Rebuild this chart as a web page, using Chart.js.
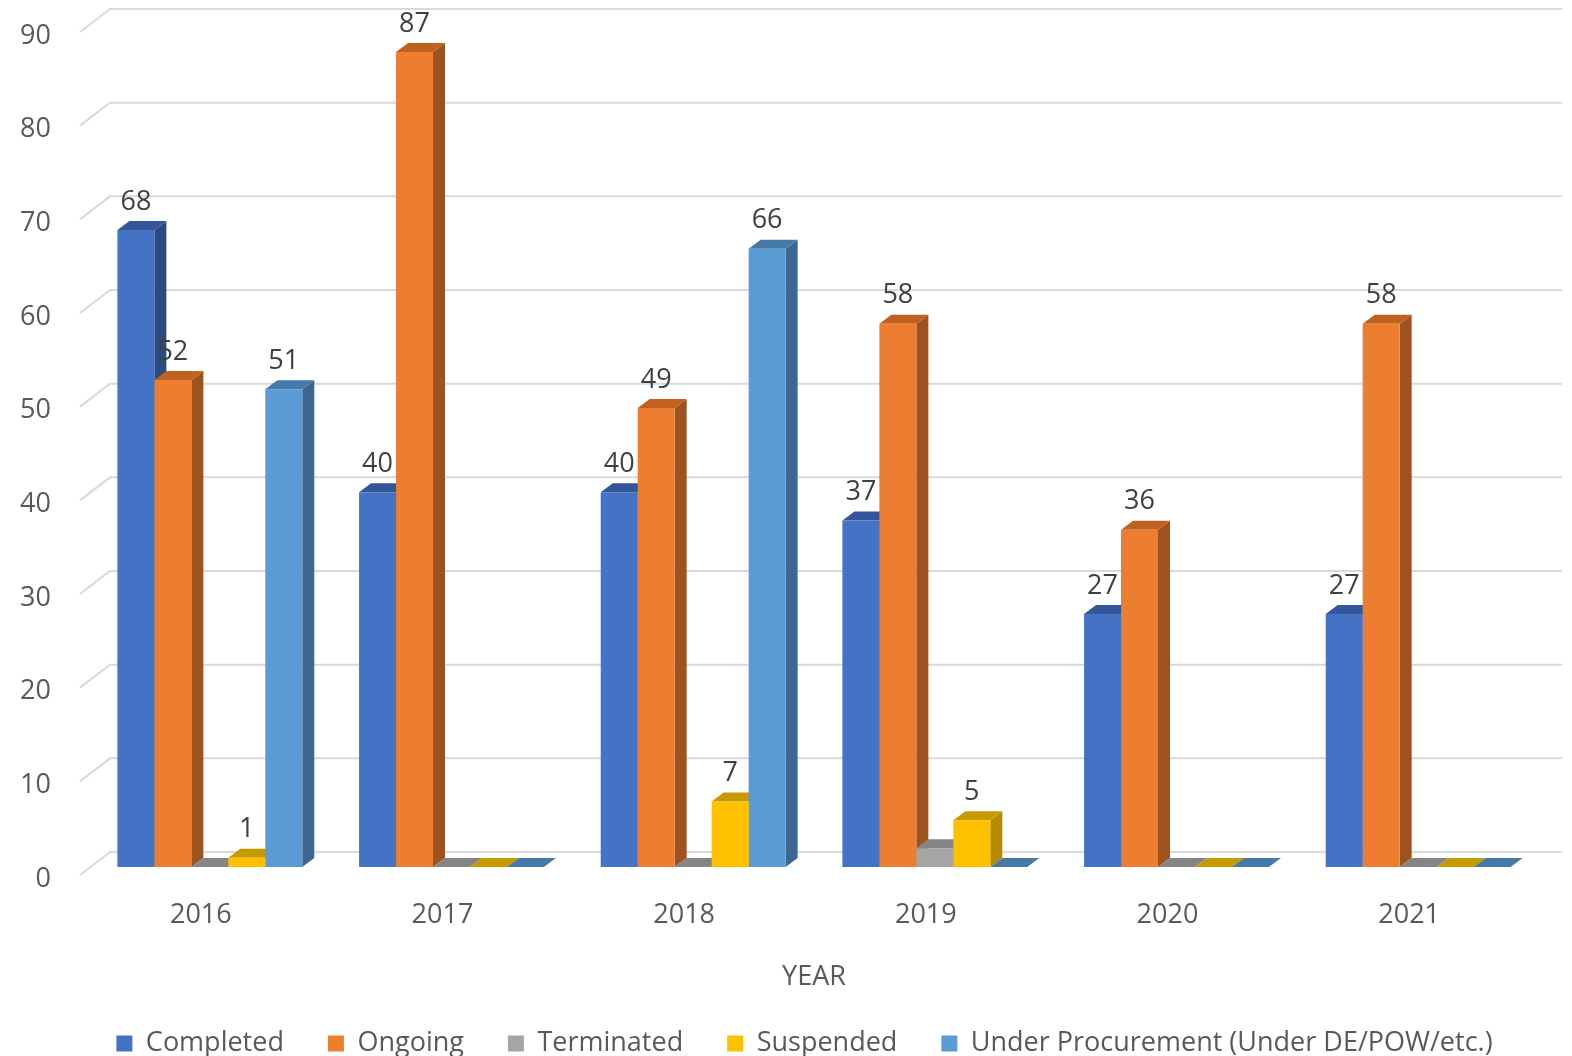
<!DOCTYPE html>
<html>
<head>
<meta charset="utf-8">
<script src="https://cdn.jsdelivr.net/npm/chart.js@4.4.1/dist/chart.umd.min.js"></script>
<style>
  html, body { margin: 0; padding: 0; background: #ffffff; }
  #wrap { width: 1572px; height: 1056px; }
</style>
</head>
<body>
<div id="wrap"><canvas id="projChart"></canvas></div>
<script>
// data
const years = ["2016", "2017", "2018", "2019", "2020", "2021"];
const completed = [68, 40, 40, 37, 27, 27];
const ongoing = [52, 87, 49, 58, 36, 58];
const terminated = [0, 0, 0, 2, 0, 0];
const suspended = [1, 0, 7, 5, 0, 0];
const underProcurement = [51, 0, 66, 0, 0, 0];
const yTicks = [0, 10, 20, 30, 40, 50, 60, 70, 80, 90];

const FONT = "'Open Sans', 'Noto Sans', sans-serif";
const DX = 12, DY = -9; // fake 3d depth

// front, side, top colours per series
const seriesStyle = [
    { front: '#4472C4', side: '#2C4A82', top: '#33569A' },
    { front: '#ED7D31', side: '#9E521F', top: '#C0611F' },
    { front: '#A5A5A5', side: '#7A7A7A', top: '#858585' },
    { front: '#FFC000', side: '#B88A00', top: '#C79A00' },
    { front: '#5B9BD5', side: '#3D6790', top: '#4579A8' }
];

// sides and tops first, so the next bar's front face covers them
const bars3d = {
    id: 'bars3d',
    beforeDatasetsDraw(chart) {
        const ctx = chart.ctx;
        ctx.save();
        chart.data.datasets.forEach(function(ds, i) {
            const meta = chart.getDatasetMeta(i);
            const st = seriesStyle[i];
            meta.data.forEach(function(bar) {
                const p = bar.getProps(['x', 'y', 'base', 'width'], true);
                const l = p.x - p.width / 2, r = p.x + p.width / 2;
                const top = Math.min(p.y, p.base), bot = p.base;
                if (bot - top > 0.5) {
                    ctx.fillStyle = st.side;
                    ctx.beginPath();
                    ctx.moveTo(r, top);
                    ctx.lineTo(r + DX, top + DY);
                    ctx.lineTo(r + DX, bot + DY);
                    ctx.lineTo(r, bot);
                    ctx.closePath();
                    ctx.fill();
                }
                ctx.fillStyle = st.top;
                ctx.beginPath();
                ctx.moveTo(l, top);
                ctx.lineTo(l + DX, top + DY);
                ctx.lineTo(r + DX, top + DY);
                ctx.lineTo(r, top);
                ctx.closePath();
                ctx.fill();
            });
        });
        ctx.restore();
    }
};

// back wall gridlines (with the little diagonal on the left) and the y labels
const wallGrid = {
    id: 'wallGrid',
    beforeDraw(chart) {
        const ctx = chart.ctx;
        const y = chart.scales.y;
        const left = chart.chartArea.left;
        ctx.save();
        ctx.strokeStyle = '#D9D9D9';
        ctx.lineWidth = 2;
        ctx.font = '27px ' + FONT;
        ctx.fillStyle = '#595959';
        ctx.textAlign = 'right';
        ctx.textBaseline = 'middle';
        yTicks.forEach(function(v) {
            const py = y.getPixelForValue(v);
            ctx.beginPath();
            ctx.moveTo(left - 9, py + 8);
            ctx.lineTo(left + 21, py - 15);
            ctx.lineTo(1562, py - 15);
            ctx.stroke();
            ctx.fillText(String(v), left - 38, py + 12);
        });
        ctx.restore();
    }
};

const valueLabels = {
    id: 'valueLabels',
    afterDatasetsDraw(chart) {
        const ctx = chart.ctx;
        ctx.save();
        ctx.font = '27px ' + FONT;
        ctx.fillStyle = '#404040';
        ctx.textAlign = 'center';
        ctx.textBaseline = 'middle';
        chart.data.datasets.forEach(function(ds, i) {
            if (ds.label === 'Terminated') return;
            chart.getDatasetMeta(i).data.forEach(function(bar, j) {
                if (!ds.data[j]) return;
                ctx.fillText(String(ds.data[j]), bar.x, bar.y - 28);
            });
        });
        ctx.restore();
    }
};

const names = ['Completed', 'Ongoing', 'Terminated', 'Suspended', 'Under Procurement (Under DE/POW/etc.)'];
const series = [completed, ongoing, terminated, suspended, underProcurement];

new Chart(document.getElementById('projChart'), {
    type: 'bar',
    data: {
        labels: years,
        datasets: series.map(function(vals, i) {
            return {
                label: names[i],
                data: vals,
                backgroundColor: seriesStyle[i].front,
                borderWidth: 0,
                barPercentage: 1.0,
                categoryPercentage: 0.765
            };
        })
    },
    options: {
        responsive: true,
        maintainAspectRatio: false,
        animation: false,
        layout: { padding: { top: 24, left: 70, right: 33, bottom: -11 } },
        plugins: {
            legend: {
                position: 'bottom',
                labels: {
                    font: { family: FONT, size: 27 },
                    color: '#595959',
                    boxWidth: 16,
                    boxHeight: 16,
                    padding: 44
                }
            },
            tooltip: { enabled: false }
        },
        scales: {
            x: {
                grid: { display: false, drawTicks: false },
                border: { display: false },
                afterFit: function(scale) { scale.height = 119; },
                ticks: {
                    font: { family: FONT, size: 27 },
                    color: '#595959',
                    padding: 32,
                    labelOffset: -9
                },
                title: {
                    display: true,
                    text: 'YEAR',
                    font: { family: FONT, size: 27 },
                    color: '#595959',
                    padding: { top: 0, bottom: -8 }
                }
            },
            y: {
                min: 0,
                max: 90,
                grid: { display: false, drawTicks: false },
                border: { display: false },
                afterFit: function(scale) { scale.width = 19; },
                ticks: { display: false, stepSize: 10 }
            }
        }
    },
    plugins: [wallGrid, bars3d, valueLabels]
});
</script>
</body>
</html>
